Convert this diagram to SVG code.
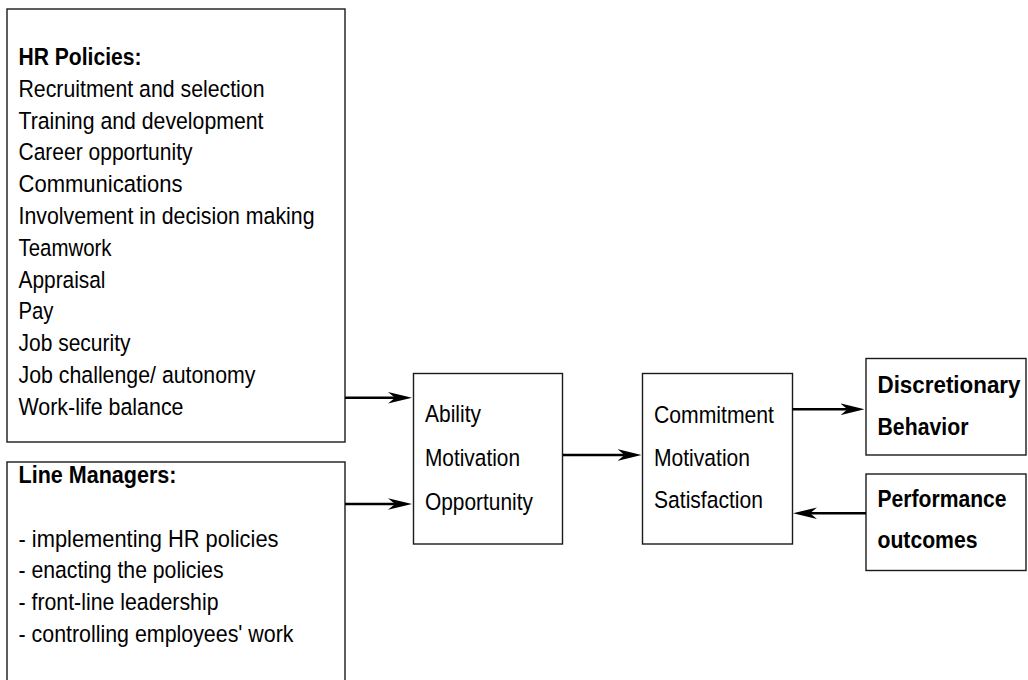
<svg xmlns="http://www.w3.org/2000/svg" width="1028" height="680" viewBox="0 0 1028 680">
<style>
.box{fill:#fff;stroke:#1a1a1a;stroke-width:1.4}
.t{font-family:"Liberation Sans",Arial,sans-serif;font-size:24.5px;fill:#000}
.b{font-weight:bold;font-size:23.5px}
.c{stroke:#000;stroke-width:2.6;fill:none;marker-end:url(#ah)}
</style>
<defs>
<marker id="ah" viewBox="-24 -6.5 24 13" refX="-17" refY="0" markerWidth="24" markerHeight="13" markerUnits="userSpaceOnUse" orient="auto">
<path d="M0,0 L-24,-5.8 L-17,0 L-24,5.8 Z" fill="#000"/>
</marker>
</defs>
<rect width="1028" height="680" fill="#fff"/>
<g id="hr-policies">
<rect class="box" x="7" y="9" width="338" height="433"/>
<text class="t b" x="18.5" y="65" textLength="123" lengthAdjust="spacingAndGlyphs">HR Policies:</text>
<text class="t" x="18.5" y="96.8" textLength="246" lengthAdjust="spacingAndGlyphs">Recruitment and selection</text>
<text class="t" x="18.5" y="128.6" textLength="245" lengthAdjust="spacingAndGlyphs">Training and development</text>
<text class="t" x="18.5" y="160.4" textLength="174" lengthAdjust="spacingAndGlyphs">Career opportunity</text>
<text class="t" x="18.5" y="192.2" textLength="164" lengthAdjust="spacingAndGlyphs">Communications</text>
<text class="t" x="18.5" y="224" textLength="296" lengthAdjust="spacingAndGlyphs">Involvement in decision making</text>
<text class="t" x="18.5" y="255.8" textLength="93" lengthAdjust="spacingAndGlyphs">Teamwork</text>
<text class="t" x="18.5" y="287.6" textLength="87" lengthAdjust="spacingAndGlyphs">Appraisal</text>
<text class="t" x="18.5" y="319.4" textLength="35" lengthAdjust="spacingAndGlyphs">Pay</text>
<text class="t" x="18.5" y="351.2" textLength="112" lengthAdjust="spacingAndGlyphs">Job security</text>
<text class="t" x="18.5" y="383" textLength="237" lengthAdjust="spacingAndGlyphs">Job challenge/ autonomy</text>
<text class="t" x="18.5" y="414.8" textLength="165" lengthAdjust="spacingAndGlyphs">Work-life balance</text>
</g>
<g id="line-managers">
<rect class="box" x="7" y="462" width="338" height="240"/>
<text class="t b" x="18.5" y="483" textLength="158" lengthAdjust="spacingAndGlyphs">Line Managers:</text>
<text class="t" x="18.5" y="546.6" textLength="260" lengthAdjust="spacingAndGlyphs">- implementing HR policies</text>
<text class="t" x="18.5" y="578.4" textLength="205" lengthAdjust="spacingAndGlyphs">- enacting the policies</text>
<text class="t" x="18.5" y="610.2" textLength="200" lengthAdjust="spacingAndGlyphs">- front-line leadership</text>
<text class="t" x="18.5" y="642" textLength="275" lengthAdjust="spacingAndGlyphs">- controlling employees' work</text>
</g>
<g id="amo">
<rect class="box" x="413.5" y="373.5" width="149" height="170.5"/>
<text class="t" x="425" y="421.5" textLength="56" lengthAdjust="spacingAndGlyphs">Ability</text>
<text class="t" x="425" y="465.7" textLength="95" lengthAdjust="spacingAndGlyphs">Motivation</text>
<text class="t" x="425" y="510" textLength="108" lengthAdjust="spacingAndGlyphs">Opportunity</text>
</g>
<g id="cms">
<rect class="box" x="642.5" y="373.5" width="150" height="170.5"/>
<text class="t" x="654" y="423.3" textLength="120" lengthAdjust="spacingAndGlyphs">Commitment</text>
<text class="t" x="654" y="466" textLength="96" lengthAdjust="spacingAndGlyphs">Motivation</text>
<text class="t" x="654" y="508.3" textLength="109" lengthAdjust="spacingAndGlyphs">Satisfaction</text>
</g>
<g id="discretionary">
<rect class="box" x="866" y="358.5" width="160" height="96.5"/>
<text class="t b" x="877.5" y="393.3" textLength="143" lengthAdjust="spacingAndGlyphs">Discretionary</text>
<text class="t b" x="877.5" y="435" textLength="91" lengthAdjust="spacingAndGlyphs">Behavior</text>
</g>
<g id="performance">
<rect class="box" x="866" y="474" width="160" height="96.5"/>
<text class="t b" x="877.5" y="506.7" textLength="129" lengthAdjust="spacingAndGlyphs">Performance</text>
<text class="t b" x="877.5" y="548.3" textLength="100" lengthAdjust="spacingAndGlyphs">outcomes</text>
</g>
<g id="connectors">
<line class="c" x1="345" y1="397.7" x2="395" y2="397.7"/>
<line class="c" x1="345" y1="504" x2="395" y2="504"/>
<line class="c" x1="563" y1="455" x2="624.5" y2="455"/>
<line class="c" x1="792.5" y1="409.3" x2="847.5" y2="409.3"/>
<line class="c" x1="866" y1="513.3" x2="810" y2="513.3"/>
</g>
</svg>
